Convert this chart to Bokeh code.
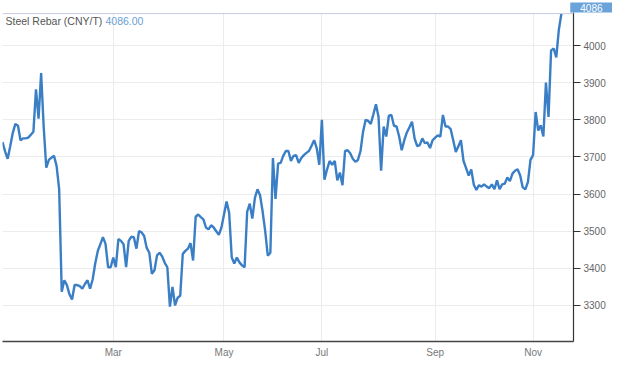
from bokeh.plotting import figure
from bokeh.models import Range1d, FixedTicker, Span, Label, Title
from bokeh.embed import file_html
from bokeh.resources import INLINE

# Steel rebar price, one value per trading day (CNY/T)
price = [
    3740, 3715, 3695, 3729, 3765, 3789, 3784, 3745, 3750, 3750,
    3752, 3760, 3768, 3882, 3803, 3926, 3780, 3671, 3692, 3698,
    3703, 3676, 3613, 3337, 3368, 3355, 3330, 3316, 3355, 3355,
    3352, 3345, 3358, 3368, 3345, 3370, 3413, 3447, 3465, 3484,
    3466, 3403, 3403, 3429, 3403, 3479, 3474, 3465, 3403, 3474,
    3485, 3484, 3453, 3500, 3497, 3487, 3455, 3442, 3385, 3395,
    3435, 3442, 3432, 3415, 3403, 3297, 3350, 3300, 3321, 3326,
    3439, 3447, 3453, 3468, 3421, 3539, 3545, 3538, 3532, 3510,
    3505, 3516, 3510, 3500, 3490, 3510, 3545, 3580, 3550, 3430,
    3413, 3429, 3416, 3408, 3403, 3553, 3574, 3534, 3590, 3613,
    3597, 3553, 3500, 3434, 3442, 3697, 3587, 3682, 3684, 3703,
    3716, 3716, 3689, 3703, 3705, 3684, 3697, 3705, 3711, 3716,
    3730, 3745, 3724, 3679, 3800, 3639, 3666, 3689, 3679, 3689,
    3637, 3658, 3624, 3716, 3718, 3710, 3695, 3687, 3692, 3716,
    3768, 3800, 3797, 3789, 3815, 3842, 3808, 3663, 3782, 3755,
    3811, 3813, 3784, 3782, 3755, 3718, 3745, 3766, 3780, 3795,
    3750, 3729, 3732, 3750, 3737, 3739, 3724, 3745, 3752, 3758,
    3755, 3813, 3782, 3782, 3775, 3745, 3713, 3729, 3745, 3689,
    3670, 3650, 3666, 3625, 3611, 3624, 3620, 3626, 3620, 3616,
    3626, 3613, 3637, 3613, 3626, 3628, 3645, 3635, 3655, 3663,
    3667, 3650, 3618, 3613, 3632, 3692, 3705, 3821, 3771, 3785,
    3755, 3900, 3808, 3987, 3992, 3968, 4042, 4086,
]
day = list(range(len(price)))

month_labels = ["Mar", "May", "Jul", "Sep", "Nov"]
month_days = [43, 86, 124, 168, 206]   # trading-day index of first session of month
y_ticks = [3300, 3400, 3500, 3600, 3700, 3800, 3900, 4000]
last_value = 4086.00
series_name = "Steel Rebar (CNY/T)"

Y_MIN, Y_MAX = 3203, 4089

p = figure(width=612, height=360, output_backend="svg", toolbar_location=None,
           x_range=Range1d(0, 221.7), y_range=Range1d(Y_MIN, Y_MAX),
           y_axis_location="right",
           min_border_left=2, min_border_top=0, min_border_right=39, min_border_bottom=17)
p.outline_line_color = None
p.background_fill_color = "white"
p.border_fill_color = "white"

# last value tag, drawn as a title so it can sit beside the frame
tag = Title(text=f"{last_value:.0f}", align="right", offset=-39, standoff=0,
            text_font="Liberation Sans", text_font_size="10px", text_font_style="normal",
            text_color="white", background_fill_color="#6aa3da",
            vertical_align="bottom", padding=(10, 1))
p.add_layout(tag, "above")

# grid
p.xgrid.grid_line_color = "#ececec"
p.ygrid.grid_line_color = "#ececec"

# right axis
ya = p.yaxis[0]
ya.ticker = FixedTicker(ticks=y_ticks)
ya.axis_line_color = "#333333"
ya.axis_line_width = 1.2
ya.major_tick_line_color = "#333333"
ya.major_tick_out = 7
ya.major_tick_in = 0
ya.minor_tick_line_color = None
ya.major_label_text_font = "Liberation Sans"
ya.major_label_text_font_size = "10px"
ya.major_label_text_color = "#666666"
ya.major_label_standoff = 3

# bottom axis
xa = p.xaxis[0]
xa.ticker = FixedTicker(ticks=month_days)
xa.major_label_overrides = {d: m for d, m in zip(month_days, month_labels)}
xa.axis_line_color = "#444444"
xa.axis_line_width = 1.6
xa.major_tick_line_color = None
xa.major_tick_out = 0
xa.major_tick_in = 0
xa.minor_tick_line_color = None
xa.major_label_text_font = "Liberation Sans"
xa.major_label_text_font_size = "10px"
xa.major_label_text_color = "#777777"
xa.major_label_standoff = 5

# last price line
p.add_layout(Span(location=last_value, dimension="width",
                  line_color="#c5cbe0", line_width=1))

p.line(day, price, line_color="#3a7fc6", line_width=2.4)

# series name and last value
t1 = Label(x=3, y=4066, x_units="screen", y_units="data", text=series_name,
           text_font="Liberation Sans", text_font_size="10.5px", text_color="#555555",
           text_baseline="middle", text_align="left")
t2 = Label(x=103, y=4066, x_units="screen", y_units="data", text=f"{last_value:.2f}",
           text_font="Liberation Sans", text_font_size="10.5px", text_color="#6a9fd4",
           text_baseline="middle", text_align="left")
p.add_layout(t1)
p.add_layout(t2)

open("out.html", "w").write(file_html(p, INLINE))
